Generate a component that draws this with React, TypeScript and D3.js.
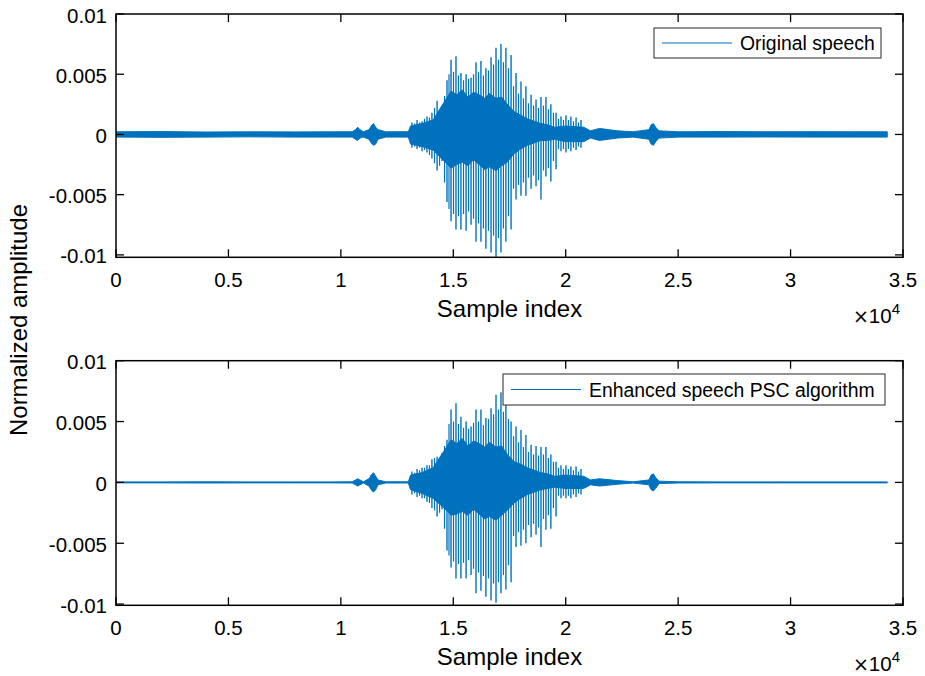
import React from "react";
import * as d3 from "d3";

const W = 925;
const H = 676;

const xTicks = [0, 5000, 10000, 15000, 20000, 25000, 30000, 35000];
const xTickLabels = ["0", "0.5", "1", "1.5", "2", "2.5", "3", "3.5"];
const yTicks = [0.01, 0.005, 0, -0.005, -0.01];
const yTickLabels = ["0.01", "0.005", "0", "-0.005", "-0.01"];

// Envelope breakpoints (sample index) of the dense part of each waveform
const envX = [
  0, 2000, 4000, 6000, 8000, 9500, 10500, 10650, 10750, 10850, 11000, 11250, 11350, 11450,
  11550, 11650, 12000, 13000, 13100, 13600, 14100, 14700, 14900, 15150, 15400, 15650, 15900,
  16150, 16400, 16600, 16900, 17150, 17400, 17700, 18000, 18300, 18600, 18900, 19200, 19500,
  20000, 20800, 21100, 21500, 22300, 23000, 23700, 23800, 23900, 24000, 24150, 25000, 27000,
  29000, 31000, 33000, 34300,
];
const origHi = [
  0.00022, 0.00024, 0.0002, 0.00022, 0.00021, 0.00022, 0.00022, 0.0004, 0.0006, 0.0004,
  0.00022, 0.0004, 0.0007, 0.0009, 0.0006, 0.0004, 0.00022, 0.00022, 0.0007, 0.0009, 0.0012,
  0.003, 0.0036, 0.0033, 0.0037, 0.0031, 0.0035, 0.0033, 0.003, 0.0034, 0.003, 0.0031,
  0.0025, 0.0019, 0.0016, 0.0013, 0.0011, 0.0009, 0.0008, 0.0006, 0.0007, 0.0006, 0.0003,
  0.0005, 0.0003, 0.00022, 0.0004, 0.0008, 0.0009, 0.0006, 0.0003, 0.00022, 0.00024, 0.00022,
  0.00023, 0.00022, 0.00022,
];
const origLo = [
  -0.00022, -0.00024, -0.00022, -0.0002, -0.00022, -0.00022, -0.00022, -0.0004, -0.0005,
  -0.0003, -0.00022, -0.0004, -0.0007, -0.0009, -0.0008, -0.0004, -0.00022, -0.00022, -0.0008,
  -0.001, -0.0013, -0.0024, -0.0028, -0.0025, -0.0023, -0.0026, -0.0021, -0.0025, -0.0029,
  -0.0027, -0.003, -0.0026, -0.0023, -0.0016, -0.0012, -0.0009, -0.0007, -0.0005, -0.0005,
  -0.0004, -0.0006, -0.0006, -0.0003, -0.0005, -0.0003, -0.00022, -0.0004, -0.0008, -0.0009,
  -0.0006, -0.0003, -0.00022, -0.00022, -0.00021, -0.00022, -0.00022, -0.00022,
];
const enhHi = [
  0.00004, 0.00004, 0.00005, 0.00004, 0.00004, 0.00004, 0.00005, 0.0002, 0.0003, 0.0002,
  0.00005, 0.0003, 0.0006, 0.0008, 0.0005, 0.0002, 0.00005, 0.00005, 0.0006, 0.0008, 0.0012,
  0.0029, 0.0035, 0.0032, 0.0036, 0.003, 0.0034, 0.0032, 0.0029, 0.0033, 0.0029, 0.003,
  0.0023, 0.0017, 0.0015, 0.0012, 0.001, 0.0008, 0.0007, 0.0005, 0.0006, 0.0005, 0.0002,
  0.0003, 0.00015, 0.00005, 0.0002, 0.0006, 0.0007, 0.0004, 0.0001, 0.00005, 0.00004,
  0.00004, 0.00004, 0.00004, 0.00004,
];
const enhLo = [
  -0.00004, -0.00004, -0.00005, -0.00004, -0.00004, -0.00004, -0.00005, -0.0002, -0.0003,
  -0.0002, -0.00005, -0.0003, -0.0006, -0.0008, -0.0006, -0.0002, -0.00005, -0.00005,
  -0.0006, -0.0009, -0.0013, -0.0023, -0.0027, -0.0026, -0.0024, -0.0027, -0.0022, -0.0026,
  -0.003, -0.0028, -0.0031, -0.0027, -0.0023, -0.0017, -0.0013, -0.001, -0.0008, -0.0006,
  -0.0005, -0.0004, -0.0005, -0.0005, -0.0002, -0.0003, -0.00015, -0.00005, -0.0002,
  -0.0006, -0.0007, -0.0005, -0.0001, -0.00005, -0.00004, -0.00004, -0.00004, -0.00004,
  -0.00004,
];

// Main pitch pulses of the voiced segment (sample index, peak, trough)
const pulseX = [
  13160, 13390, 13610, 13830, 14050, 14280, 14500, 14720, 14900, 15120, 15340, 15570, 15790,
  16010, 16230, 16450, 16680, 16900, 17120, 17340, 17570, 17790, 18010, 18230, 18460, 18680,
  18900, 19120, 19340, 19570, 19790, 20010, 20230, 20460, 20680,
];
const origPulseHi = [
  0.001, 0.0012, 0.0011, 0.0015, 0.0018, 0.0028, 0.0024, 0.0045, 0.0062, 0.0065, 0.0051,
  0.005, 0.0047, 0.006, 0.0061, 0.0055, 0.0064, 0.0072, 0.0075, 0.0072, 0.0066, 0.0051,
  0.0044, 0.004, 0.0033, 0.0029, 0.0031, 0.0031, 0.0025, 0.0018, 0.0015, 0.0016, 0.0015,
  0.0014, 0.0012,
];
const origPulseLo = [
  -0.0011, -0.0012, -0.0014, -0.0015, -0.002, -0.003, -0.0022, -0.0056, -0.0072, -0.0079,
  -0.0079, -0.008, -0.0075, -0.0089, -0.0089, -0.0095, -0.0098, -0.0102, -0.0098, -0.0089,
  -0.0079, -0.0054, -0.0051, -0.0051, -0.0045, -0.0043, -0.0054, -0.0035, -0.0039, -0.0029,
  -0.0014, -0.0015, -0.0014, -0.0013, -0.0011,
];
const enhPulseHi = [
  0.0009, 0.0011, 0.0012, 0.0014, 0.0019, 0.0021, 0.0024, 0.0035, 0.006, 0.0065, 0.0054,
  0.005, 0.0046, 0.006, 0.006, 0.0053, 0.0061, 0.0072, 0.0074, 0.0068, 0.005, 0.0046,
  0.0043, 0.0039, 0.0031, 0.003, 0.0029, 0.0029, 0.0023, 0.0017, 0.0014, 0.0014, 0.0013,
  0.0013, 0.0011,
];
const enhPulseLo = [
  -0.001, -0.0012, -0.0013, -0.0016, -0.0021, -0.0028, -0.0022, -0.0056, -0.007, -0.0079,
  -0.0079, -0.0079, -0.0076, -0.0091, -0.0089, -0.0094, -0.0097, -0.0099, -0.0091, -0.0088,
  -0.0082, -0.0053, -0.0052, -0.005, -0.0045, -0.0043, -0.0053, -0.0039, -0.0038, -0.0028,
  -0.0013, -0.0013, -0.0013, -0.0012, -0.001,
];

// Secondary (in-between) oscillation peaks of the voiced segment
const pulse2X = [
  13275, 13500, 13720, 13940, 14165, 14390, 14610, 14810, 15010, 15230, 15455, 15680, 15900,
  16120, 16340, 16565, 16790, 17010, 17230, 17455, 17680, 17900, 18120, 18345, 18570, 18790,
  19010, 19230, 19455, 19680, 19900, 20120, 20345, 20570,
];
const orig2Hi = [
  0.0009, 0.001, 0.0013, 0.0014, 0.0022, 0.0021, 0.0032, 0.005, 0.0052, 0.0049, 0.0045,
  0.0046, 0.005, 0.0052, 0.0049, 0.0053, 0.0058, 0.0062, 0.006, 0.0055, 0.004, 0.0034, 0.003,
  0.0026, 0.0024, 0.0022, 0.0024, 0.0021, 0.0018, 0.0013, 0.0012, 0.0012, 0.0011, 0.001,
];
const orig2Lo = [
  -0.001, -0.0011, -0.0013, -0.0017, -0.0024, -0.0026, -0.004, -0.0062, -0.0066, -0.0068,
  -0.0066, -0.0064, -0.007, -0.0074, -0.0078, -0.008, -0.0084, -0.0086, -0.0078, -0.0068,
  -0.0045, -0.0042, -0.004, -0.0036, -0.0034, -0.0038, -0.003, -0.0028, -0.0022, -0.0012,
  -0.0012, -0.0012, -0.0011, -0.001,
];
const enh2Hi = [
  0.0008, 0.001, 0.0012, 0.0014, 0.002, 0.002, 0.003, 0.0048, 0.005, 0.0048, 0.0045, 0.0044,
  0.0049, 0.005, 0.0047, 0.0052, 0.0056, 0.006, 0.0058, 0.0052, 0.0038, 0.0033, 0.0029,
  0.0025, 0.0023, 0.0022, 0.0023, 0.002, 0.0017, 0.0012, 0.0011, 0.0011, 0.001, 0.0009,
];
const enh2Lo = [
  -0.0009, -0.0011, -0.0013, -0.0017, -0.0023, -0.0025, -0.0038, -0.006, -0.0065, -0.0067,
  -0.0066, -0.0064, -0.0071, -0.0074, -0.0077, -0.0079, -0.0083, -0.0082, -0.0076, -0.0068,
  -0.0044, -0.0041, -0.0039, -0.0035, -0.0034, -0.0037, -0.003, -0.0027, -0.0021, -0.0011,
  -0.0011, -0.0011, -0.001, -0.0009,
];

const BLUE = "#0072BD";
const FONT = "'Liberation Sans', Arial, sans-serif";
const LEFT = 116;
const RIGHT = 903;

type PanelProps = {
  id: string;
  top: number;
  bottom: number;
  yMin: number;
  hi: number[];
  lo: number[];
  pHi: number[];
  pLo: number[];
  p2Hi: number[];
  p2Lo: number[];
  label: string;
  box: [number, number, number, number];
};

function Panel({ id, top, bottom, yMin, hi, lo, pHi, pLo, p2Hi, p2Lo, label, box }: PanelProps) {
  const x = d3.scaleLinear().domain([0, 35000]).range([LEFT, RIGHT]);
  const y = d3.scaleLinear().domain([yMin, 0.01]).range([bottom, top]);
  const area = d3
    .area<number>()
    .x((_, i) => x(envX[i]))
    .y0((_, i) => y(lo[i]))
    .y1((d) => y(d));
  const areaD = area(hi) || "";
  const seg = (xs: number[], a: number[], b: number[]) =>
    xs.map((px, i) => `M${x(px).toFixed(2)},${y(a[i]).toFixed(2)}V${y(b[i]).toFixed(2)}`).join("");
  const pulses = seg(pulseX, pHi, pLo);
  const pulses2 = seg(pulse2X, p2Hi, p2Lo);
  const [bx0, by0, bx1, by1] = box;
  const ly = (by0 + by1) / 2;
  return (
    <g>
      <defs>
        <clipPath id={id}>
          <rect x={LEFT} y={top} width={RIGHT - LEFT} height={bottom - top} />
        </clipPath>
      </defs>
      <g clipPath={`url(#${id})`}>
        <path d={areaD} fill={BLUE} stroke={BLUE} strokeWidth={1} strokeLinejoin="round" />
        <path d={pulses2} fill="none" stroke={BLUE} strokeWidth={1.2} />
        <path d={pulses} fill="none" stroke={BLUE} strokeWidth={1.4} />
      </g>
      <rect x={LEFT} y={top} width={RIGHT - LEFT} height={bottom - top} fill="none" stroke="#000" strokeWidth={1.5} />
      {xTicks.map((t) => (
        <g key={"xt" + t}>
          <line x1={x(t)} x2={x(t)} y1={bottom} y2={bottom - 8} stroke="#000" strokeWidth={1.3} />
          <line x1={x(t)} x2={x(t)} y1={top} y2={top + 8} stroke="#000" strokeWidth={1.3} />
        </g>
      ))}
      {yTicks.map((t) => (
        <g key={"yt" + t}>
          <line x1={LEFT} x2={LEFT + 8} y1={y(t)} y2={y(t)} stroke="#000" strokeWidth={1.3} />
          <line x1={RIGHT} x2={RIGHT - 8} y1={y(t)} y2={y(t)} stroke="#000" strokeWidth={1.3} />
        </g>
      ))}
      {xTicks.map((t, i) => (
        <text key={"xl" + t} x={x(t)} y={bottom + 30} textAnchor="middle" fontSize={20.5} fontFamily={FONT} fill="#000">
          {xTickLabels[i]}
        </text>
      ))}
      {yTicks.map((t, i) => (
        <text key={"yl" + t} x={107} y={y(t) + 8.5} textAnchor="end" fontSize={20.5} fontFamily={FONT} fill="#000">
          {yTickLabels[i]}
        </text>
      ))}
      <text x={(LEFT + RIGHT) / 2} y={bottom + 60} textAnchor="middle" fontSize={24} fontFamily={FONT} fill="#000">
        Sample index
      </text>
      <text x={900} y={bottom + 66} textAnchor="end" fontFamily={FONT} fill="#000" fontSize={20.5}>
        <tspan fontSize={19} fontFamily="'DejaVu Sans', sans-serif">×</tspan>
        <tspan>10</tspan>
        <tspan dy={-9} fontSize={15}>4</tspan>
      </text>
      <rect x={bx0} y={by0} width={bx1 - bx0} height={by1 - by0} fill="#fff" stroke="#262626" strokeWidth={1} />
      <line x1={bx0 + 8} x2={bx0 + 78} y1={ly} y2={ly} stroke={BLUE} strokeWidth={1.2} />
      <text x={bx0 + 86} y={ly + 7} fontSize={19.4} fontFamily={FONT} fill="#000">
        {label}
      </text>
    </g>
  );
}

export default function App() {
  return (
    <svg
      width={W}
      height={H}
      viewBox={`0 0 ${W} ${H}`}
      style={{ position: "absolute", left: 0, top: 0, background: "#fff" }}
    >
      <rect width={W} height={H} fill="#fff" />
      <Panel
        id="clipTop"
        top={14}
        bottom={257.3}
        yMin={-0.0102}
        hi={origHi}
        lo={origLo}
        pHi={origPulseHi}
        pLo={origPulseLo}
        p2Hi={orig2Hi}
        p2Lo={orig2Lo}
        label="Original speech"
        box={[654, 28, 881, 58]}
      />
      <Panel
        id="clipBot"
        top={360.7}
        bottom={605.3}
        yMin={-0.0101}
        hi={enhHi}
        lo={enhLo}
        pHi={enhPulseHi}
        pLo={enhPulseLo}
        p2Hi={enh2Hi}
        p2Lo={enh2Lo}
        label="Enhanced speech PSC algorithm"
        box={[503, 374, 885, 405]}
      />
      <text
        transform="translate(27,320) rotate(-90)"
        textAnchor="middle"
        fontSize={24}
        fontFamily={FONT}
        fill="#000"
      >
        Normalized amplitude
      </text>
    </svg>
  );
}
